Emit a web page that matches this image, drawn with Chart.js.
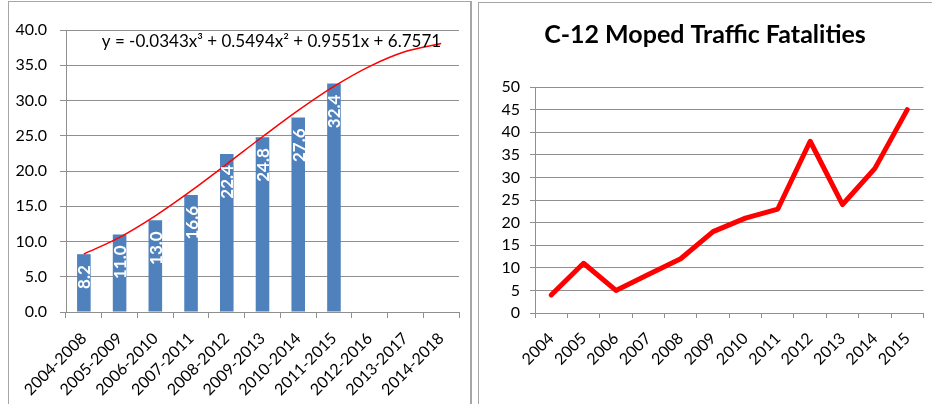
<!DOCTYPE html>
<html>
<head>
<meta charset="utf-8">
<script src="https://cdn.jsdelivr.net/npm/chart.js@4.4.1/dist/chart.umd.min.js"></script>
<style>
  body { margin: 0; background: #fff; width: 932px; height: 404px; overflow: hidden; position: relative; }
  .panel { position: absolute; border: 1px solid #a6a6a6; background: #fff; }
  #leftPanel { left: 8px; top: 1px; width: 461px; height: 420px; border-right-width: 2px; }
  #rightPanel { left: 478px; top: 2px; width: 470px; height: 420px; }
  .box { position: absolute; }
</style>
</head>
<body>
<div class="panel" id="leftPanel"></div>
<div class="panel" id="rightPanel"></div>
<div class="box" style="left:10px;top:3px;width:460px;height:401px"><canvas id="trendChart"></canvas></div>
<div class="box" style="left:481px;top:5px;width:451px;height:399px"><canvas id="mopedChart"></canvas></div>
<script>
// data
const periods = ["2004-2008", "2005-2009", "2006-2010", "2007-2011", "2008-2012", "2009-2013",
  "2010-2014", "2011-2015", "2012-2016", "2013-2017", "2014-2018"];
const rollingAvg = [8.2, 11.0, 13.0, 16.6, 22.4, 24.8, 27.6, 32.4];
// trendline values at x = 1..11, taken from the equation printed on the chart
const trendValues = [8.23, 10.59, 13.64, 17.17, 20.98, 24.86, 28.6, 32.0, 34.85, 36.95, 38.09];
const trendLabel = "y = -0.0343x³ + 0.5494x² + 0.9551x + 6.7571";

const years = ["2004", "2005", "2006", "2007", "2008", "2009", "2010", "2011", "2012", "2013", "2014", "2015"];
const fatalities = [4, 11, 5, 8.5, 12, 18, 21, 23, 38, 24, 32, 45];

const gridGray = "#8f8f8f";
const tickFont = { family: "Lato", size: 16 };

// white values written up the bars
const barLabels = {
  id: "barLabels",
  afterDatasetsDraw(chart) {
    const { ctx } = chart;
    const meta = chart.getDatasetMeta(0); // bar dataset
    ctx.save();
    ctx.fillStyle = "#ffffff";
    ctx.font = "bold 17px Lato";
    ctx.textAlign = "right";
    ctx.textBaseline = "middle";
    meta.data.forEach(function (bar, i) {
      ctx.save();
      ctx.translate(bar.x + 1, bar.y + 11);
      ctx.rotate(-Math.PI / 2);
      ctx.fillText(rollingAvg[i].toFixed(1), 0, 0);
      ctx.restore();
    });
    ctx.restore();
  },
};

// trendline equation
const equationText = {
  id: "equationText",
  afterDraw(chart) {
    const { ctx, chartArea, scales } = chart;
    ctx.save();
    ctx.font = "17px Lato";
    ctx.fillStyle = "#000";
    ctx.textAlign = "right";
    ctx.textBaseline = "middle";
    ctx.fillText(trendLabel, scales.x.getPixelForValue(10), chartArea.top + 12);
    ctx.restore();
  },
};

new Chart(document.getElementById("trendChart"), {
  type: "bar",
  data: {
    labels: periods,
    datasets: [
      {
        data: rollingAvg,
        backgroundColor: "#4f81bd",
        barPercentage: 0.38,
        categoryPercentage: 1,
        order: 1,
      },
      {
        type: "line",
        data: trendValues,
        borderColor: "#ff0000",
        borderWidth: 1.5,
        pointRadius: 0,
        cubicInterpolationMode: "monotone",
        order: 0,
      },
    ],
  },
  options: {
    responsive: true,
    maintainAspectRatio: false,
    animation: false,
    layout: { padding: { top: 27, right: 11, left: 0, bottom: 0 } },
    plugins: { legend: { display: false }, tooltip: { enabled: false } },
    scales: {
      x: {
        grid: { drawOnChartArea: false, tickLength: 6, color: gridGray, offset: true },
        border: { color: gridGray },
        ticks: { minRotation: 45, maxRotation: 45, autoSkip: false, color: "#000", font: tickFont, padding: 11 },
        afterFit: function (s) { s.height = 92; },
      },
      y: {
        min: 0,
        max: 40,
        grid: { color: gridGray, tickLength: 6 },
        border: { color: gridGray },
        ticks: {
          stepSize: 5,
          padding: 13,
          color: "#000",
          font: tickFont,
          callback: function (v) { return v.toFixed(1); },
        },
        afterFit: function (s) { s.width = 56; },
      },
    },
  },
  plugins: [barLabels, equationText],
});

new Chart(document.getElementById("mopedChart"), {
  type: "line",
  data: {
    labels: years,
    datasets: [
      {
        data: fatalities,
        borderColor: "#ff0000",
        borderWidth: 5,
        pointRadius: 0,
        tension: 0,
        borderCapStyle: "round",
        borderJoinStyle: "round",
      },
    ],
  },
  options: {
    responsive: true,
    maintainAspectRatio: false,
    animation: false,
    layout: { padding: { top: 0, right: 3, left: 0, bottom: 0 } },
    plugins: {
      legend: { display: false },
      tooltip: { enabled: false },
      title: {
        display: true,
        text: "C-12 Moped Traffic Fatalities",
        color: "#000",
        font: { family: "Lato", size: 25, weight: "bold" },
        padding: { top: 15, bottom: 37 },
      },
    },
    scales: {
      x: {
        offset: true,
        grid: { drawOnChartArea: false, tickLength: 5, color: gridGray, offset: true },
        border: { color: gridGray },
        ticks: { minRotation: 45, maxRotation: 45, autoSkip: false, color: "#000", font: tickFont, padding: 11 },
        afterFit: function (s) { s.height = 91; },
      },
      y: {
        min: 0,
        max: 50,
        grid: { color: gridGray, tickLength: 5 },
        border: { color: gridGray },
        ticks: { stepSize: 5, padding: 10, color: "#000", font: tickFont },
        afterFit: function (s) { s.width = 54; },
      },
    },
  },
});
</script>
</body>
</html>
